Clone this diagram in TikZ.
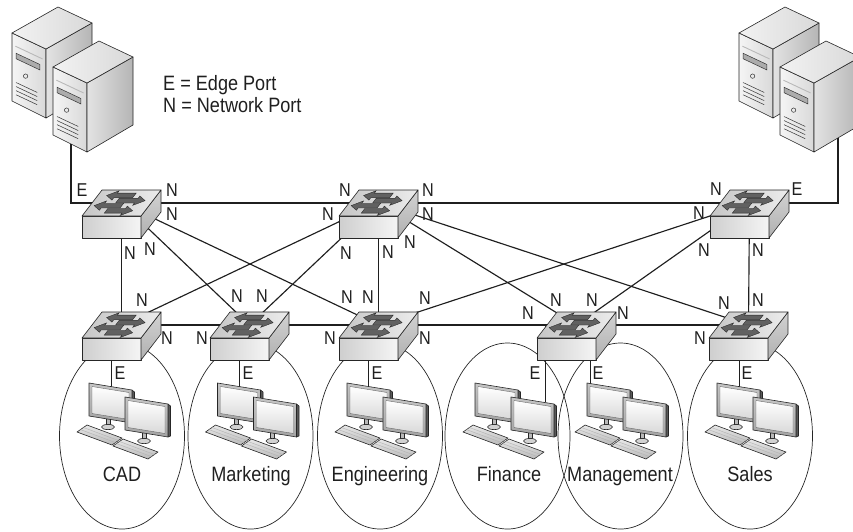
\documentclass[tikz,border=0pt]{standalone}
\usepackage{fontspec}
\setmainfont{Liberation Sans}[FakeStretch=0.87]
\usetikzlibrary{shapes.geometric}

% one of the four arrows printed on a switch lid (lid coordinates)
\newcommand\hubArrow[4]{%
  \path[draw=black!85, fill=black!62, line width=0.35pt, line join=miter]
    ({#1},{#4-0.09}) -- ({#2},{#4-0.09}) -- ({#2},{#4-0.18}) -- ({#3},{#4})
    -- ({#2},{#4+0.18}) -- ({#2},{#4+0.09}) -- ({#1},{#4+0.09}) -- cycle;}

% flat screen with stand, given by the top-left corner of the panel
\newcommand\monitorUnit[2]{%
  \begin{scope}[shift={(#1,#2)}]
    \path[shapeline, fill=gray!55] (17,34) rectangle (21,43);
    \path[shapeline, fill=gray!35] (19,44) ellipse [x radius=6.5pt, y radius=2.6pt];
    \path[shapeline, fill=black!65] (43,7) -- (45.5,9) -- (45.5,39) -- (43,40) -- cycle;
    \path[shapeline, top color=gray!45, bottom color=gray!72] (0,0) -- (43,7) -- (43,40) -- (0,33) -- cycle;
    \path[draw=black!60, line width=0.4pt, top color=white, bottom color=gray!30]
      (3,3.5) -- (40,9.5) -- (40,36.5) -- (3,30.5) -- cycle;
  \end{scope}}

% keyboard, given by the corner of its bounding box
\newcommand\keyboardUnit[2]{%
  \begin{scope}[shift={(#1,#2)}]
    \path[shapeline, top color=gray!18, bottom color=gray!55] (0,7) -- (10,0) -- (45,13) -- (35,20) -- cycle;
    \draw[gray!60, line width=0.4pt] (3.5,4.6) -- (38.5,17.6);
    \draw[gray!60, line width=0.4pt] (6.5,2.5) -- (41.5,15.5);
  \end{scope}}

\tikzset{
  shapeline/.style={draw=black!85, line width=0.6pt, line join=round},
  uplink/.style={draw=black!88, line width=1.15pt},
  pclink/.style={draw=black!88, line width=0.95pt},
  deptarea/.style={ellipse, draw=black!85, line width=0.7pt, minimum width=125pt, minimum height=186pt, inner sep=0pt},
  portlabel/.style={font=\fontsize{18.6}{20}\selectfont, inner sep=0pt, text=black!88},
  grouplabel/.style={font=\fontsize{20.8}{24}\selectfont, inner sep=0pt, anchor=base, text=black!88},
  legendtext/.style={font=\fontsize{20.8}{24}\selectfont, inner sep=0pt, anchor=base west, text=black!88},
  % workgroup switch, origin at the centre of its lid
  netswitch/.pic={
    \path[shapeline, left color=gray!38, right color=gray!8] (-39.5,13) rectangle (19.5,35);
    \path[shapeline, top color=gray!35, bottom color=gray!62] (19.5,13) -- (39.5,-13) -- (39.5,9) -- (19.5,35) -- cycle;
    \path[shapeline, left color=gray!45, right color=gray!15] (-39.5,13) -- (19.5,13) -- (39.5,-13) -- (-19.5,-13) -- cycle;
    \begin{scope}[shift={(-39.5,13)}, x={(59pt,0pt)}, y={(20pt,26pt)}]
      \hubArrow{0.62}{0.30}{0.15}{0.79}
      \hubArrow{0.40}{0.72}{0.87}{0.59}
      \hubArrow{0.54}{0.22}{0.07}{0.40}
      \hubArrow{0.34}{0.64}{0.79}{0.20}
    \end{scope}
  },
  % tower server, origin at the top-left corner of its front panel
  towerunit/.pic={
    \path[shapeline, left color=gray!8, right color=gray!30] (0,0) -- (34,16) -- (34,85) -- (0,68) -- cycle;
    \path[shapeline, left color=gray!22, right color=gray!58] (34,16) -- (80,-10) -- (80,58) -- (34,85) -- cycle;
    \path[shapeline, left color=gray!10, right color=gray!30] (0,0) -- (34,16) -- (80,-10) -- (46,-26) -- cycle;
    \begin{scope}[x={(34pt,-16pt)}, y={(0pt,-68pt)}]
      \draw[gray!55, line width=0.9pt] (0.1,0.17) -- (0.9,0.17);
      \path[fill=gray!65, draw=black!80, line width=0.5pt] (0.12,0.27) -- (0.82,0.27) -- (0.82,0.35) -- (0.12,0.35) -- cycle;
      \draw[black!80, line width=0.5pt] (0.4,0.54) circle [radius=2.2pt];
      \foreach \v in {0.70,0.76,0.82,0.88}
        \draw[black!75, line width=0.55pt] (0.12,\v) -- (0.74,\v);
    \end{scope}
  },
  % two screens and two keyboards, origin at the top-left of the left screen
  workstation/.pic={
    \monitorUnit{0}{0}
    \monitorUnit{36}{14}
    \keyboardUnit{-12}{42}
    \keyboardUnit{24}{56}
  }
}

\begin{document}
\begin{tikzpicture}[x=1pt,y=-1pt]
\useasboundingbox (0,0) rectangle (853,531);

% servers
\pic at (12,33) {towerunit};
\pic at (53,67) {towerunit};
\pic at (739,33) {towerunit};
\pic at (780,67) {towerunit};

% legend
\node[legendtext] (legE) at (163,90) {E = Edge Port};
\node[legendtext] (legN) at (163,112) {N = Network Port};

% switch positions (lid centres)
\coordinate (t1) at (121.5,203);
\coordinate (t2) at (378.5,203);
\coordinate (t3) at (749.5,203);
\coordinate (b1) at (121.5,325);
\coordinate (b2) at (249.5,325);
\coordinate (b3) at (378.5,325);
\coordinate (b4) at (576.5,325);
\coordinate (b5) at (748.5,325);

% server ports
\coordinate (srvL) at (71,144);
\coordinate (srvR) at (838,138);

% departments
\node[deptarea] (cad) at (122,436) {};
\node[deptarea] (mkt) at (250.5,436) {};
\node[deptarea] (eng) at (380,436) {};
\node[deptarea] (fin) at (507.5,436) {};
\node[deptarea] (mgm) at (620.5,436) {};
\node[deptarea] (sal) at (750,436) {};

% network links
\draw[uplink] (t1) -- (t2) -- (t3);
\draw[uplink] (b1) -- (b2) -- (b3) -- (b4) -- (b5);
\draw[uplink] (t1) -- (b1);
\draw[uplink] (t2) -- (b3);
\draw[uplink] (t3) -- (b5);
\draw[uplink] (t1) -- (b2);
\draw[uplink] (t1) -- (b3);
\draw[uplink] (t2) -- (b1);
\draw[uplink] (t2) -- (b2);
\draw[uplink] (t2) -- (b4);
\draw[uplink] (t2) -- (b5);
\draw[uplink] (t3) -- (b3);
\draw[uplink] (t3) -- (b4);

% server edge links
\draw[uplink] (srvL) |- (t1);
\draw[uplink] (srvR) |- (t3);

% workstation edge links
\coordinate (cadpc) at (111,386.5);
\coordinate (mktpc) at (239.5,386.5);
\coordinate (engpc) at (368.5,386.5);
\coordinate (finpc) at (545,402);
\coordinate (mgmpc) at (590,383.5);
\coordinate (salpc) at (739.5,386.5);
\draw[pclink] (cadpc) -- (cadpc |- b1);
\draw[pclink] (mktpc) -- (mktpc |- b2);
\draw[pclink] (engpc) -- (engpc |- b3);
\draw[pclink] (finpc) -- (finpc |- b4);
\draw[pclink] (mgmpc) -- (mgmpc |- b4);
\draw[pclink] (salpc) -- (salpc |- b5);

% switches
\foreach \s in {t1,t2,t3,b1,b2,b3,b4,b5}
  \pic at (\s) {netswitch};

% workstations
\pic at (89,383) {workstation};
\pic at (217.5,383) {workstation};
\pic at (347,383) {workstation};
\pic at (475,383) {workstation};
\pic at (587,383) {workstation};
\pic at (717,383) {workstation};

% department names
\node[grouplabel] (cadname) at (122,481.5) {CAD};
\node[grouplabel] (mktname) at (251,481.5) {Marketing};
\node[grouplabel] (engname) at (380,481.5) {Engineering};
\node[grouplabel] (finname) at (509,481.5) {Finance};
\node[grouplabel] (mgmname) at (620,481.5) {Management};
\node[grouplabel] (salname) at (750,481.5) {Sales};

% edge port marks
\foreach \px/\py [count=\i] in {82/190, 797/189, 120/373, 248/373, 377/373, 535/373, 598/373, 747/373}
  \node[portlabel] (e\i) at (\px,\py) {E};

% network port marks
\foreach \px/\py [count=\i] in {172/190, 172/214, 130/253, 150/249,
    345/190, 328/214, 346/253, 388/252, 410/242, 428/190, 428/214,
    716/189, 699/213, 704/250, 758/250,
    142/300, 167/338, 202/338, 237/296, 262/296, 347/297, 368/297, 425/298,
    330/338, 425/338, 528/313, 556/300, 592/300, 623/313, 724/303, 758/300, 700/338}
  \node[portlabel] (n\i) at (\px,\py) {N};
\end{tikzpicture}
\end{document}
